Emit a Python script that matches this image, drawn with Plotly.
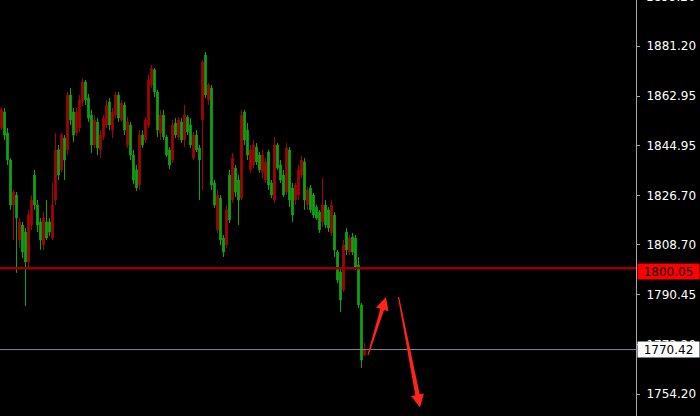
import plotly.graph_objects as go

# ---- data (price bars) ----
opens = [1851.3, 1857.1, 1849.5, 1839.6, 1823.2, 1826.8, 1810.4, 1815.9, 1813.3, 1802.4,
         1815.9, 1834.1, 1823.2, 1817.0, 1808.6, 1817.0, 1817.0, 1811.1, 1825.0, 1843.3,
         1836.0, 1847.6, 1843.3, 1863.3, 1857.1, 1849.5, 1851.3, 1860.8, 1868.1, 1862.2,
         1856.0, 1845.1, 1853.5, 1843.3, 1848.0, 1852.4, 1860.8, 1850.5, 1856.0, 1863.3,
         1854.2, 1859.7, 1845.1, 1852.4, 1841.4, 1836.0, 1830.5, 1848.7, 1846.9, 1852.4,
         1867.0, 1872.5, 1864.4, 1849.5, 1856.0, 1848.0, 1843.3, 1839.6, 1853.1, 1848.0,
         1853.5, 1846.9, 1855.3, 1852.4, 1840.3, 1848.7, 1844.0, 1854.2, 1877.9, 1861.5,
         1865.9, 1831.2, 1814.1, 1825.7, 1811.1, 1808.6, 1834.1, 1825.0, 1836.7, 1832.3,
         1825.7, 1857.1, 1850.5, 1836.0, 1837.8, 1844.3, 1841.4, 1835.2, 1832.3, 1842.5,
         1831.2, 1825.0, 1845.1, 1837.8, 1834.1, 1827.9, 1843.3, 1829.4, 1825.0, 1826.8,
         1834.1, 1838.9, 1823.2, 1829.4, 1826.8, 1822.4, 1820.6, 1817.0, 1823.2, 1821.4,
         1813.0, 1819.5, 1806.0, 1798.7, 1792.2, 1813.3, 1806.0, 1811.5, 1811.1, 1801.3,
         1786.7, 1768.4]
highs = [1858.9, 1858.6, 1851.3, 1840.3, 1828.7, 1827.9, 1818.4, 1817.0, 1814.8, 1821.4,
         1826.8, 1836.0, 1825.0, 1818.4, 1820.6, 1825.0, 1818.4, 1831.2, 1849.5, 1845.1,
         1849.5, 1848.7, 1864.4, 1865.9, 1858.6, 1858.6, 1863.3, 1869.5, 1868.8, 1863.7,
         1857.9, 1856.0, 1854.9, 1850.5, 1856.0, 1861.5, 1862.2, 1858.6, 1864.4, 1864.4,
         1861.5, 1860.8, 1855.3, 1853.5, 1843.3, 1837.8, 1850.5, 1850.5, 1855.3, 1870.6,
         1874.3, 1873.2, 1865.2, 1857.9, 1857.9, 1848.7, 1844.3, 1854.2, 1854.9, 1855.3,
         1854.9, 1859.7, 1856.0, 1854.9, 1849.8, 1850.5, 1845.1, 1876.1, 1879.0, 1867.7,
         1867.0, 1832.3, 1828.7, 1826.8, 1812.2, 1823.2, 1836.0, 1842.2, 1837.8, 1834.1,
         1857.9, 1857.9, 1853.1, 1845.1, 1846.9, 1845.8, 1842.5, 1843.3, 1840.3, 1843.3,
         1832.3, 1848.0, 1845.8, 1839.6, 1836.0, 1845.8, 1844.3, 1831.2, 1831.2, 1837.8,
         1841.1, 1840.3, 1829.7, 1830.5, 1827.6, 1823.2, 1821.4, 1833.0, 1825.0, 1822.4,
         1825.0, 1820.6, 1806.8, 1800.2, 1810.4, 1814.8, 1812.2, 1813.0, 1812.2, 1804.2,
         1787.4, 1772.8]
lows = [1850.5, 1846.9, 1837.8, 1821.4, 1810.4, 1798.4, 1807.5, 1803.8, 1786.3, 1800.2,
        1814.1, 1821.4, 1813.3, 1806.8, 1806.8, 1810.4, 1811.9, 1810.4, 1823.2, 1832.3,
        1835.2, 1832.3, 1841.4, 1852.4, 1846.2, 1848.4, 1849.8, 1859.3, 1859.7, 1853.5,
        1842.2, 1844.0, 1841.4, 1840.3, 1846.9, 1851.3, 1850.5, 1847.6, 1854.9, 1853.5,
        1853.5, 1848.7, 1844.0, 1839.6, 1830.8, 1828.3, 1828.7, 1844.0, 1845.8, 1851.3,
        1865.9, 1862.6, 1848.0, 1846.9, 1846.9, 1840.7, 1836.3, 1838.5, 1847.6, 1846.9,
        1845.8, 1844.3, 1848.7, 1844.0, 1839.6, 1842.5, 1825.0, 1828.7, 1862.2, 1859.7,
        1828.7, 1822.1, 1813.0, 1808.6, 1804.2, 1807.5, 1816.6, 1823.9, 1826.1, 1815.9,
        1825.0, 1845.1, 1839.6, 1834.9, 1836.7, 1837.8, 1834.9, 1833.0, 1831.2, 1828.7,
        1825.7, 1823.9, 1836.0, 1831.2, 1826.1, 1826.8, 1822.4, 1817.0, 1823.2, 1825.0,
        1833.0, 1821.4, 1821.4, 1820.3, 1818.4, 1817.7, 1813.0, 1815.1, 1814.8, 1813.3,
        1811.9, 1804.2, 1794.7, 1784.1, 1791.4, 1804.9, 1804.9, 1804.9, 1799.5, 1785.6,
        1763.7, 1768.1]
closes = [1857.9, 1848.7, 1839.6, 1823.2, 1827.9, 1818.4, 1817.0, 1806.0, 1802.4, 1819.5,
          1825.0, 1823.2, 1815.9, 1810.4, 1818.4, 1811.1, 1813.3, 1823.2, 1843.3, 1834.1,
          1848.7, 1839.6, 1863.3, 1854.2, 1848.7, 1857.1, 1861.5, 1868.1, 1861.5, 1854.9,
          1845.1, 1854.2, 1844.0, 1848.7, 1854.9, 1859.7, 1852.4, 1857.1, 1863.3, 1854.9,
          1860.4, 1850.5, 1853.5, 1841.4, 1832.3, 1829.4, 1848.7, 1845.1, 1854.2, 1868.8,
          1873.2, 1864.4, 1850.5, 1856.0, 1848.0, 1841.4, 1837.8, 1852.4, 1848.7, 1854.2,
          1846.9, 1856.0, 1849.8, 1845.1, 1848.7, 1843.3, 1839.6, 1875.4, 1863.3, 1867.0,
          1830.5, 1823.2, 1826.8, 1810.4, 1806.0, 1821.4, 1817.7, 1840.3, 1827.9, 1825.0,
          1856.0, 1846.9, 1841.4, 1843.3, 1845.1, 1838.9, 1836.0, 1841.4, 1838.9, 1830.5,
          1826.8, 1845.1, 1836.7, 1832.3, 1826.8, 1844.0, 1825.0, 1819.5, 1830.5, 1836.0,
          1839.6, 1825.0, 1828.7, 1821.4, 1819.5, 1818.4, 1814.1, 1823.2, 1815.9, 1814.8,
          1823.2, 1806.8, 1795.8, 1788.5, 1808.6, 1806.8, 1811.1, 1806.0, 1800.2, 1786.7,
          1766.6, 1770.4]

tick_vals = [1881.20, 1862.95, 1844.95, 1826.70, 1808.70, 1790.45, 1772.20, 1754.20]
tick_text = ["1881.20", "1862.95", "1844.95", "1826.70", "1808.70", "1790.45", "1772.20", "1754.20"]
top_label = "1899.20"
red_level = 1800.05
last_price = 1770.42

# ---- styling ----
W, H = 700, 416
PLOT_RIGHT = 636
UP_COLOR = "#a00606"
DOWN_COLOR = "#12a112"
ARROW_RED = "#ff2418"
FONT = "DejaVu Sans"

n = len(opens)
bar_px = 3.0
x_max = (PLOT_RIGHT - bar_px / 2) / bar_px

fig = go.Figure(go.Candlestick(
    x=list(range(n)), open=opens, high=highs, low=lows, close=closes,
    increasing=dict(line=dict(color=UP_COLOR, width=1), fillcolor=UP_COLOR),
    decreasing=dict(line=dict(color=DOWN_COLOR, width=1), fillcolor=DOWN_COLOR),
    whiskerwidth=0, hoverinfo="skip", showlegend=False,
))

def P(px, py):
    return px / W, 1 - py / H

def arrow_path(points):
    pts = [P(x, y) for x, y in points]
    return "M " + " L ".join(f"{x:.5f},{y:.5f}" for x, y in pts) + " Z"

arrow_up = [(367.5, 354.8), (380.3, 308.8), (376.0, 307.5), (386.0, 297.0),
            (388.4, 311.3), (384.1, 310.0), (368.5, 355.2)]
arrow_down = [(397.9, 297.1), (415.3, 395.2), (411.1, 396.0), (420.0, 407.5),
              (423.9, 393.5), (419.7, 394.3), (399.1, 296.9)]

shapes = [
    dict(type="line", xref="paper", yref="y", x0=0, x1=PLOT_RIGHT / W,
         y0=red_level, y1=red_level, line=dict(color="#960000", width=2.5), layer="above"),
    dict(type="line", xref="paper", yref="y", x0=0, x1=PLOT_RIGHT / W,
         y0=last_price, y1=last_price, line=dict(color="#7a8792", width=1), layer="above"),
    dict(type="path", xref="paper", yref="paper", path=arrow_path(arrow_up),
         fillcolor=ARROW_RED, line=dict(width=0), layer="above"),
    dict(type="path", xref="paper", yref="paper", path=arrow_path(arrow_down),
         fillcolor=ARROW_RED, line=dict(width=0), layer="above"),
]

annotations = [
    dict(xref="paper", yref="y", x=637 / W, y=red_level, xanchor="left", yanchor="middle",
         yshift=-3, text=f"{red_level:.2f}", showarrow=False, bgcolor="#ff0000",
         width=61, height=15, borderpad=0, align="center",
         font=dict(family=FONT, size=12, color="#000000")),
    dict(xref="paper", yref="y", x=637 / W, y=last_price, xanchor="left", yanchor="middle",
         text=f"{last_price:.2f}", showarrow=False, bgcolor="#ffffff",
         width=61, height=15, borderpad=0, align="center",
         font=dict(family=FONT, size=12, color="#000000")),
    dict(xref="paper", yref="paper", x=644 / W, y=1, xanchor="left", yanchor="middle",
         yshift=3, text=top_label, showarrow=False,
         font=dict(family=FONT, size=12, color="#ffffff")),
]

fig.update_layout(
    width=W, height=H, margin=dict(l=0, r=0, t=0, b=0, autoexpand=False),
    paper_bgcolor="#000000", plot_bgcolor="#000000",
    showlegend=False, boxgap=0.45, boxgroupgap=0,
    shapes=shapes, annotations=annotations,
    xaxis=dict(domain=[0, PLOT_RIGHT / W], range=[-0.5, x_max], visible=False,
               rangeslider=dict(visible=False), showgrid=False, fixedrange=True),
    yaxis=dict(side="right", range=[1746.17, 1898.0], tickmode="array",
               tickvals=tick_vals, ticktext=tick_text, showgrid=False, zeroline=False,
               ticks="outside", ticklen=3, tickcolor="#a8a8a8", showline=True,
               linecolor="#a8a8a8", linewidth=1, ticklabelstandoff=4, automargin=False,
               fixedrange=True, tickfont=dict(family=FONT, size=12, color="#ffffff")),
)

fig.write_html(
    "out.html",
    config={"displayModeBar": False, "staticPlot": True},
    post_script="document.body.style.margin='0';document.body.style.padding='0';"
                "document.body.style.background='#000';document.body.style.overflow='hidden';",
)
